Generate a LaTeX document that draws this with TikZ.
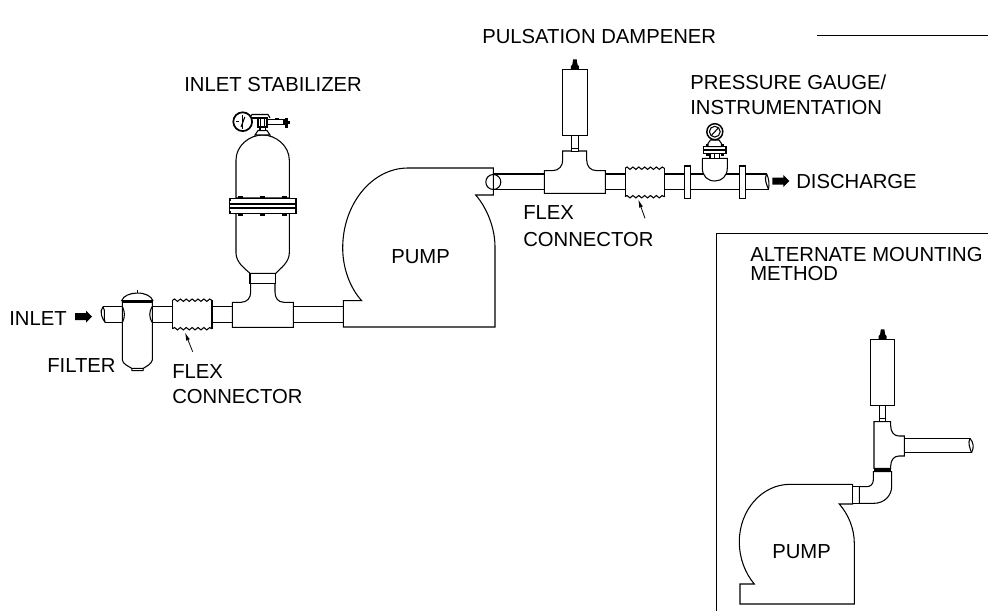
\documentclass[tikz,border=0pt]{standalone}
\usepackage{fontspec}
\setmainfont{Liberation Sans}
\usetikzlibrary{decorations.pathmorphing,arrows.meta}
\tikzset{
  part/.style={draw=black,fill=white,line width=0.8pt,line join=miter},
  edge/.style={draw=black,line width=0.8pt},
  lab/.style={anchor=base west,inner sep=0pt,font=\fontsize{15.2}{17}\selectfont,text=black},
  wavy/.style={draw=black,line width=0.8pt,decorate,decoration={snake,amplitude=0.9,segment length=4.4}},
  leader/.style={draw=black,line width=0.6pt,-{Latex[length=6pt,width=3pt]}},
  flowarrow/.pic={\fill[black] (0,-3.5)--(11,-3.5)--(11,-6)--(17,0)--(11,6)--(11,3.5)--(0,3.5)--cycle;},
  damperunit/.pic={
    \fill[black] (-4,0) -- (4,0) -- (4,-3) -- (2.5,-5) -- (1.8,-10) -- (-1.8,-10) -- (-2.5,-5) -- (-4,-3) -- cycle;
    \path[part] (-12.2,0) rectangle (12.2,66);
    \path[part] (-3.3,66) rectangle (3.3,82);
    \draw[edge] (-3.3,79) -- (3.3,79);
  },
  flexunit/.pic={
    \path[fill=white] (0,0) rectangle (39.3,28.5);
    \draw[edge] (0,0) -- (0,28.5) (39.3,0) -- (39.3,28.5);
    \draw[wavy] (0,0) -- (39.3,0);
    \draw[wavy] (0,28.5) -- (39.3,28.5);
  }
}
\begin{document}
\begin{tikzpicture}[x=0.75pt,y=-0.75pt]
\useasboundingbox (0,0) rectangle (988,611);
\fill[white] (0,0) rectangle (988,611);

% top right rule
\coordinate (ruleA) at (817,35);
\coordinate (ruleB) at (988,35);
\draw[draw=black,line width=0.65pt] (ruleA) -- (ruleB);

% ---------- inlet line
\draw[edge] (103,306.7) -- (124,306.7) (105,322.3) -- (124,322.3);
\draw[edge] (103,306.7) .. controls (99,312) and (102,318) .. (105,322.3);
\draw[edge] (103,306.7) .. controls (106,311) and (103,317) .. (105,322.3);
\draw[edge] (150,306.7) -- (173,306.7) (150,322.3) -- (173,322.3);
\draw[edge] (212,306.7) -- (232.3,306.7) (212,322.3) -- (232.3,322.3);
\draw[edge] (293.3,306.7) -- (343.3,306.7) (293.3,322.3) -- (343.3,322.3);

% filter
\path[part] (122.3,300) -- (122.3,360) .. controls (123,364) and (128,366) .. (131.7,368.3)
  -- (143.3,368.3) .. controls (147,366) and (151.5,364) .. (152.3,360) -- (152.3,300) -- cycle;
\draw[edge] (131.7,368.3) -- (132,370.7) -- (143,370.7) -- (143.3,368.3);
\path[part] (121.7,300.7) .. controls (123,296) and (130,293) .. (137.3,293)
  .. controls (145,293) and (151.5,296) .. (152.8,300.7) -- cycle;
\draw[draw=black,line width=1.5pt] (122,301.5) -- (152.5,301.5);
\draw[edge] (137.3,293) -- (137.3,290);
\draw[edge] (122.5,306.7) .. controls (125,312) and (125,317) .. (122.5,322.3);
\draw[edge] (152,306.7) .. controls (149,312) and (149,317) .. (152,322.3);

% inlet flex
\pic at (172.7,300.2) {flexunit};

% inlet tee
\path[part] (232.3,327.3) -- (293.3,327.3) -- (293.3,302.3) -- (284,302.3)
  .. controls (278,302.3) and (275,298) .. (275,292) -- (275,283.3) -- (250.7,283.3) -- (250.7,292)
  .. controls (250.7,298) and (247,302.3) .. (241,302.3) -- (232.3,302.3) -- cycle;

% stabilizer vessel
\path[part] (236,198) -- (236,160) .. controls (236,146) and (249,135) .. (262.7,135)
  .. controls (276,135) and (289.3,146) .. (289.3,160) -- (289.3,198) -- cycle;
\path[part] (236,213) -- (236,253) .. controls (236,262) and (244,268) .. (250,273.3)
  -- (275.7,273.3) .. controls (281,268) and (289.3,262) .. (289.3,253) -- (289.3,213) -- cycle;
\path[part] (250,273.3) rectangle (275.7,283.3);
\path[part] (229.3,198.3) rectangle (296,213.3);
\draw[edge] (229.3,204) -- (296,204) (229.3,208) -- (296,208);
\foreach \bx in {240.7,262.7,284}{
  \fill[black] (\bx-2.5,196) rectangle (\bx+2.5,198.3);
  \fill[black] (\bx-2.5,213.3) rectangle (\bx+2.5,215.5);
}
\fill[black] (228.5,198) rectangle (231,200.5);
\fill[black] (294.5,198) rectangle (297,200.5);
\fill[black] (228.5,211) rectangle (231,213.5);
\fill[black] (294.5,211) rectangle (297,213.5);

% stabilizer gauge
\path[part] (255,135) -- (258,130.5) -- (267,130.5) -- (270,135) -- cycle;
\path[part] (260,126) rectangle (265.5,130.5);
\path[part] (258,118) rectangle (267,127);
\draw[edge] (260.5,118) -- (260.5,127) (264.5,118) -- (264.5,127);
\draw[edge] (250,117.5) -- (252,114.5) -- (268,114.5) -- (270,118);
\draw[edge] (252,118) -- (258,118);
\path[part] (267,119.5) -- (284,119.5) -- (284,124.5) -- (267,124.5) -- cycle;
\fill[black] (285,118) rectangle (288,127.5);
\fill[black] (288,120.5) rectangle (290,124);
\fill[black] (275,118) rectangle (279,120);
\path[draw=black,fill=white,line width=1.3pt] (242.7,121.7) circle (9.4);
\draw[edge] (242.7,114.5) -- (242.7,129);
\draw[edge] (244.8,117) -- (241,127);
\draw[draw=black,line width=0.5pt] (236,121.7) -- (239,121.7);

% ---------- main pump
\path[part] (408,168) -- (493.3,168) -- (493.3,195) -- (475.7,195)
  .. controls (487,208) and (495,228) .. (495,247) -- (495,327) -- (343.3,327) -- (343.3,300.7) -- (361.7,300.7)
  .. controls (350,288) and (342.7,268) .. (342.7,248)
  .. controls (342.7,204) and (372,168) .. (408,168) -- cycle;
\draw[edge] (493.3,182) circle (7.5);

% discharge pipe
\draw[edge] (493.3,174) -- (544.3,174) (493.3,189.3) -- (544.3,189.3);
\draw[edge] (605.3,174) -- (625.3,174) (605.3,189.3) -- (625.3,189.3);
\draw[edge] (664.3,174) -- (766.7,174) (664.3,189.3) -- (768.5,189.3);
\draw[edge] (766.7,174) .. controls (763.5,179) and (767,185) .. (768.5,189.3);
\draw[edge] (766.7,174) .. controls (769,179) and (769.5,184) .. (768.5,189.3);

% discharge tee and dampener
\path[part] (544.3,193.3) -- (605.3,193.3) -- (605.3,170.7) -- (597,170.7)
  .. controls (590,170.7) and (586.7,166) .. (586.7,160) -- (586.7,151) -- (562.7,151) -- (562.7,160)
  .. controls (562.7,166) and (559,170.7) .. (552,170.7) -- (544.3,170.7) -- cycle;
\pic at (574.9,69.3) {damperunit};

% discharge flex
\pic at (625.2,168.2) {flexunit};

% flanges
\path[part] (684.3,166) rectangle (690.3,198.3);
\path[part] (739.3,166) rectangle (745.3,198.3);

% pressure gauge unit
\path[part] (702.3,158.3) -- (727.3,158.3) -- (727.3,168) .. controls (727.3,176) and (722,181) .. (714.8,181)
  .. controls (707.5,181) and (702.3,176) .. (702.3,168) -- cycle;
\path[part] (710,153.5) rectangle (719.5,158.3);
\draw[edge] (714.8,153.5) -- (714.8,158.3);
\path[part] (703.3,146.7) rectangle (726,153.3);
\draw[edge] (703.3,150) -- (726,150);
\fill[black] (705.5,143.8) rectangle (709,146.7);
\fill[black] (720.5,143.8) rectangle (724,146.7);
\fill[black] (705.5,153.3) rectangle (709,155.5);
\fill[black] (720.5,153.3) rectangle (724,155.5);
\path[part] (708,143.5) -- (710.5,140) -- (719,140) -- (721.5,143.5) -- (721.5,146.7) -- (708,146.7) -- cycle;
\path[draw=black,fill=white,line width=1.1pt] (714.8,131.7) circle (8);
\draw[edge] (714.8,131.7) circle (5.4);
\draw[edge] (711.3,135.5) -- (718.3,128);

\pic at (772.3,181) {flowarrow};
\pic at (75,316.7) {flowarrow};

% ---------- alternate box
\coordinate (boxA) at (716,611);
\coordinate (boxB) at (716,233);
\coordinate (boxC) at (988,233);
\draw[draw=black,line width=0.65pt] (boxA) -- (boxB) -- (boxC);

% alternate pipe
\draw[edge] (904.3,438.3) -- (970,438.3) (904.3,452.7) -- (971.5,452.7);
\draw[edge] (970,438.3) .. controls (967.5,443) and (970,448) .. (971.5,452.7);
\draw[edge] (970,438.3) .. controls (974,443) and (974,448) .. (971.5,452.7);

% alternate pump
\path[part] (790,484.3) -- (852.7,484.3) -- (852.7,504) -- (839.3,504)
  .. controls (848,514) and (854.3,528) .. (854.3,543.3) -- (854.3,604) -- (740,604) -- (740,584) -- (754.3,584)
  .. controls (745,573) and (739.3,558) .. (739.3,541.7)
  .. controls (739.3,510) and (762,484.3) .. (790,484.3) -- cycle;

% alternate elbow and coupling
\path[part] (852.7,486.7) rectangle (859.3,503.3);
\path[part] (859.3,486.7) -- (866.7,486.7) .. controls (870.5,486.7) and (873.3,484) .. (873.3,480) -- (873.3,471.7)
  -- (891.7,471.7) -- (891.7,486) .. controls (891.7,496) and (884,503.3) .. (874,503.3) -- (859.3,503.3) -- cycle;
\fill[black] (874,468.3) rectangle (890.7,471.7);

% alternate tee and dampener
\path[part] (874,421.7) -- (890.7,421.7) -- (890.7,426) .. controls (890.7,432) and (894,436) .. (899,436)
  -- (904.3,436) -- (904.3,456) -- (899,456) .. controls (894,456) and (890.7,460) .. (890.7,466) -- (890.7,468.3)
  -- (874,468.3) -- cycle;
\pic at (882.6,339.3) {damperunit};

% ---------- labels
\node[lab] (lblInlet) at (9,325) {INLET};
\node[lab] (lblFilter) at (47,372) {FILTER};
\node[lab] (lblFlexA) at (172,378) {FLEX};
\node[lab] (lblConnA) at (172,403) {CONNECTOR};
\node[lab] (lblStab) at (184,91) {INLET STABILIZER};
\node[lab] (lblDamp) at (482,43) {PULSATION DAMPENER};
\node[lab] (lblGauge) at (690,89) {PRESSURE GAUGE/};
\node[lab] (lblInstr) at (690,114) {INSTRUMENTATION};
\node[lab] (lblDis) at (796,188) {DISCHARGE};
\node[lab] (lblPump) at (391,263) {PUMP};
\node[lab] (lblFlexB) at (523,219) {FLEX};
\node[lab] (lblConnB) at (523,246) {CONNECTOR};
\node[lab] (lblAlt) at (750,261) {ALTERNATE MOUNTING};
\node[lab] (lblMeth) at (750,280) {METHOD};
\node[lab] (lblPumpB) at (772,558) {PUMP};

% flex leaders
\coordinate (leadA) at (192.7,351.7);
\coordinate (tipA) at (185,332.5);
\coordinate (leadB) at (645,218.3);
\coordinate (tipB) at (638.3,199.5);
\draw[leader] (leadA) -- (tipA);
\draw[leader] (leadB) -- (tipB);
\end{tikzpicture}
\end{document}
